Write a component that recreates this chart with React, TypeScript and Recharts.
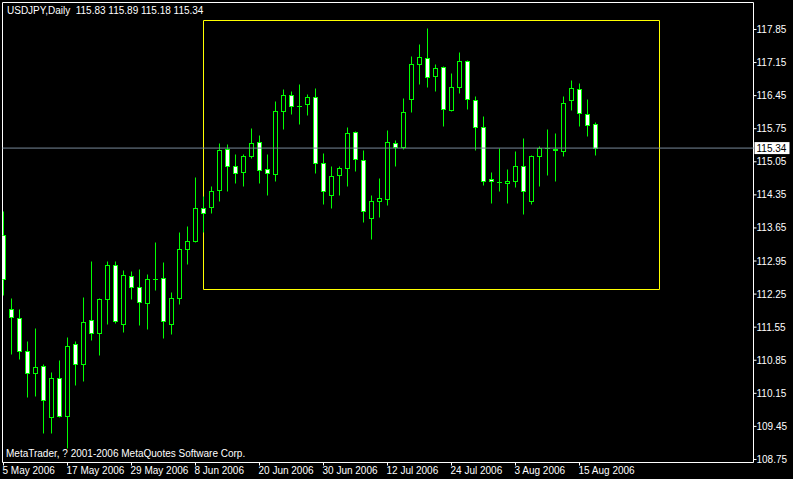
import React from "react";
import {
  ComposedChart,
  Bar,
  XAxis,
  YAxis,
  ReferenceLine,
  ReferenceArea,
  Customized
} from "recharts";

// USDJPY daily, 5 May 2006 .. 17 Aug 2006 (one entry per trading day)
const opens = [
  113.49, 111.92, 111.73, 111.03, 110.58, 110.72, 109.63, 110.46, 109.67, 111.18,
  110.77, 111.69, 111.42, 112.14, 112.85, 111.61, 112.62, 112.4, 112.06, 112.55,
  112.57, 111.61, 112.16, 113.19, 113.37, 114.06, 114.08, 114.44, 115.31, 114.94,
  114.82, 115.16, 115.45, 114.88, 114.78, 116.11, 116.45, 116.23, 116.26, 116.4,
  115.01, 114.33, 114.75, 114.91, 115.66, 115.07, 113.84, 114.22, 114.26, 115.43,
  115.36, 116.36, 117.1, 117.23, 116.85, 117.04, 116.13, 116.62, 117.17, 116.34,
  115.77, 114.67, 114.61, 114.6, 114.63, 114.94, 114.2, 115.16, 115.33, 115.31,
  115.26, 116.34, 116.57, 116.05, 115.83
];
const highs = [
  114.0, 112.16, 111.93, 111.25, 111.53, 110.76, 110.59, 110.84, 111.34, 111.24,
  112.18, 112.94, 112.16, 112.93, 112.93, 112.75, 112.73, 112.77, 112.66, 113.34,
  112.92, 112.28, 113.55, 113.68, 114.72, 114.32, 114.53, 115.44, 115.41, 115.2,
  115.2, 115.75, 115.61, 115.2, 116.33, 116.58, 116.54, 116.69, 116.47, 116.6,
  115.23, 114.94, 114.94, 115.78, 115.69, 115.29, 114.34, 114.7, 115.71, 115.5,
  116.39, 117.28, 117.53, 117.87, 117.1, 117.06, 116.91, 117.36, 117.19, 116.43,
  116.0, 114.82, 115.33, 114.89, 115.27, 115.54, 115.18, 115.37, 115.73, 115.64,
  116.43, 116.76, 116.7, 116.36, 115.89
];
const lows = [
  112.22, 110.97, 110.86, 110.07, 110.09, 109.29, 109.31, 109.63, 108.98, 110.31,
  110.4, 111.27, 110.94, 111.61, 111.63, 111.44, 112.14, 111.59, 111.51, 112.33,
  111.3, 111.4, 112.04, 112.88, 113.35, 113.55, 113.95, 114.22, 114.43, 114.6,
  114.53, 115.11, 114.6, 114.34, 114.64, 115.74, 116.06, 115.83, 116.04, 114.81,
  114.15, 114.07, 114.34, 114.53, 114.85, 113.77, 113.41, 113.88, 114.13, 114.96,
  115.3, 116.1, 116.68, 116.62, 116.53, 115.79, 116.11, 116.49, 116.15, 115.28,
  114.54, 114.16, 114.43, 114.17, 114.51, 113.94, 114.14, 114.53, 114.75, 114.64,
  115.16, 116.14, 115.8, 115.59, 115.18
];
const closes = [
  112.56, 111.75, 111.03, 110.58, 110.69, 109.99, 110.46, 109.67, 111.14, 110.75,
  111.64, 111.41, 112.13, 112.85, 111.66, 112.64, 112.38, 112.08, 112.55, 112.55,
  111.68, 112.15, 113.19, 113.36, 114.06, 113.95, 114.42, 115.28, 114.94, 114.8,
  115.16, 115.43, 114.86, 114.8, 116.11, 116.45, 116.21, 116.23, 116.4, 115.01,
  114.42, 114.73, 114.9, 115.64, 115.09, 113.99, 114.2, 114.27, 115.45, 115.35,
  116.09, 117.1, 117.25, 116.83, 117.02, 116.15, 116.62, 117.17, 116.36, 115.77,
  114.63, 114.63, 114.61, 114.63, 114.94, 114.42, 115.16, 115.33, 115.33, 115.28,
  116.28, 116.6, 116.07, 115.81, 115.34
];

const tickIdx = [0, 8, 16, 24, 32, 40, 48, 56, 64, 72];
const tickLabels = [
  "5 May 2006", "17 May 2006", "29 May 2006", "8 Jun 2006", "20 Jun 2006",
  "30 Jun 2006", "12 Jul 2006", "24 Jul 2006", "3 Aug 2006", "15 Aug 2006"
];
const priceTicks = [
  117.85, 117.15, 116.45, 115.75, 115.05, 114.35, 113.65, 112.95, 112.25,
  111.55, 110.85, 110.15, 109.45, 108.75
];
const lastPrice = 115.34;
const boxBars = [25, 82];
const boxPrices = [112.347, 118.04];

const X_DOMAIN = [-0.125, 93.75];
const Y_DOMAIN = [108.686, 118.421];

const GREEN = "#00ff00";
const FONT = "'Liberation Sans', Arial, sans-serif";

const data = opens.map((o, i) => ({ i, o, h: highs[i], l: lows[i], c: closes[i] }));

const snap = (v: number) => Math.floor(v) + 0.5;

function Candle(props: any) {
  const { x, y, width, height, payload } = props;
  if (x == null || payload == null) return null;
  const top = Math.min(y, y + height);
  const bot = Math.max(y, y + height);
  const { o, h, l, c } = payload;
  const py = (p: number) => top + ((h - p) / (h - l)) * (bot - top);
  const cx = snap(x + width / 2);
  const bTop = snap(py(Math.max(o, c)));
  const bBot = snap(py(Math.min(o, c)));
  const bull = c > o;
  return (
    <g>
      <line x1={cx} x2={cx} y1={snap(top)} y2={snap(bot)} stroke={GREEN} />
      {bBot - bTop < 1 ? (
        <line x1={cx - 2.5} x2={cx + 2.5} y1={bTop} y2={bTop} stroke={GREEN} />
      ) : (
        <rect
          x={cx - 2}
          y={bTop}
          width={4}
          height={bBot - bTop}
          fill={bull ? "#000" : "#fff"}
          stroke={GREEN}
        />
      )}
    </g>
  );
}

function DateTick(props: any) {
  const { x, y, payload } = props;
  const k = tickIdx.indexOf(payload.value);
  return (
    <text x={x - 1} y={y} dy="0.71em" fill="#fff" fontSize={10} fontFamily={FONT} textAnchor="start">
      {tickLabels[k]}
    </text>
  );
}

function PriceTick(props: any) {
  const { x, y, payload } = props;
  return (
    <text x={x} y={y} dy="0.355em" fill="#fff" fontSize={10} fontFamily={FONT} textAnchor="start">
      {payload.value.toFixed(2)}
    </text>
  );
}

function PriceBox(props: any) {
  const vb = props.viewBox;
  if (!vb) return null;
  const bx = vb.x + vb.width + 1;
  const by = vb.y;
  return (
    <g>
      <rect x={bx} y={by - 6} width={35} height={12} fill="#fff" />
      <text x={bx + 2} y={by} dy="0.355em" fill="#000" fontSize={10} fontFamily={FONT}>
        {lastPrice.toFixed(2)}
      </text>
    </g>
  );
}

function Captions() {
  return (
    <g fontFamily={FONT} fontSize={10} fill="#fff">
      <text x={7} y={14}>{"USDJPY,Daily\u00a0\u00a0115.83 115.89 115.18 115.34"}</text>
      <text x={6} y={457}>MetaTrader, ? 2001-2006 MetaQuotes Software Corp.</text>
    </g>
  );
}

export default function App() {
  return (
    <div style={{ position: "absolute", left: 0, top: 0, width: 793, height: 479, background: "#000" }}>
      <ComposedChart
        width={793}
        height={479}
        data={data}
        margin={{ top: 2.5, left: 2.5, right: 0, bottom: 0 }}
      >
        <XAxis
          dataKey="i"
          type="number"
          domain={X_DOMAIN}
          allowDataOverflow
          ticks={tickIdx}
          interval={0}
          height={16.5}
          axisLine={false}
          tickLine={{ stroke: "#fff" }}
          tickSize={3}
          tickMargin={1}
          tick={<DateTick />}
        />
        <YAxis
          type="number"
          orientation="right"
          domain={Y_DOMAIN}
          allowDataOverflow
          ticks={priceTicks}
          interval={0}
          width={39.5}
          axisLine={false}
          tickLine={{ stroke: "#fff" }}
          tickSize={3}
          tickMargin={0}
          tick={<PriceTick />}
        />
        <ReferenceArea
          x1={X_DOMAIN[0]}
          x2={X_DOMAIN[1]}
          y1={Y_DOMAIN[0]}
          y2={Y_DOMAIN[1]}
          fill="none"
          fillOpacity={0}
          stroke="#fff"
          strokeWidth={1}
        />
        <ReferenceLine y={lastPrice} stroke="#778899" label={(p: any) => <PriceBox {...p} />} />
        <Bar
          dataKey={(d: any) => [d.l, d.h]}
          barSize={5}
          shape={(p: any) => <Candle {...p} />}
          isAnimationActive={false}
        />
        <ReferenceArea
          x1={boxBars[0]}
          x2={boxBars[1]}
          y1={boxPrices[0]}
          y2={boxPrices[1]}
          fill="none"
          fillOpacity={0}
          stroke="#ffff00"
          strokeWidth={1}
        />
        <Customized component={<Captions />} />
      </ComposedChart>
    </div>
  );
}
